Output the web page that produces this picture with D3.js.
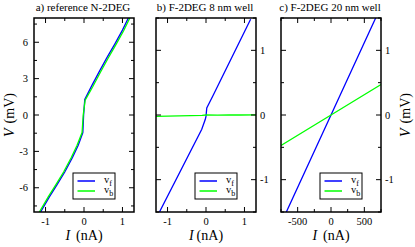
<!DOCTYPE html>
<html>
<head>
<meta charset="utf-8">
<script src="https://d3js.org/d3.v7.min.js"></script>
<style>
  body { margin: 0; background: #fff; }
  svg text { font-family: "Liberation Serif", "Times New Roman", "Liberation Sans", Arial, sans-serif; fill: #000; }
</style>
</head>
<body>
<div id="chart"></div>
<script>
const W = 415, H = 247;
const FONT = "'Liberation Serif', 'Times New Roman', 'Liberation Sans', Arial, sans-serif";

// panel a) reference N-2DEG, I in nA, V in mV
const aVf = [[-1.16,-8.2],[-1.13,-8],[-0.9,-6.75],[-0.7,-5.75],[-0.5,-4.7],[-0.3,-3.5],[-0.15,-2.5],[-0.03,-1.45],[-0.01,0],[0.02,1.29],[0.2,2.4],[0.4,3.6],[0.6,4.75],[0.8,5.85],[1.0,7.0],[1.13,7.85],[1.16,8.05]];
const aVb = [[-1.19,-8.2],[-1.16,-8],[-0.93,-6.75],[-0.73,-5.75],[-0.53,-4.7],[-0.33,-3.5],[-0.18,-2.5],[-0.05,-1.45],[-0.02,0],[0.03,1.22],[0.23,2.35],[0.43,3.55],[0.63,4.7],[0.83,5.8],[1.03,6.95],[1.16,7.8],[1.19,8.0]];
// panel b) F-2DEG 8 nm well
const bVf = [[-1.21,-1.5],[-0.11,-0.22],[-0.02,-0.07],[0,-0.02],[0.02,0.11],[0.19,0.31],[1.16,1.48]];
const bVb = [[-1.3,-0.02],[-1.0,-0.017],[-0.7,-0.012],[-0.4,-0.01],[-0.1,-0.006],[0,0],[0.3,-0.002],[0.6,0.002],[0.9,0],[1.3,0.002]];
// panel c) F-2DEG 20 nm well
const cVf = [[-670,-1.5],[0,0],[670,1.5]];
const cVb = [[-750,-0.47],[0,0],[750,0.47]];

const titles = ["a) reference N-2DEG", "b) F-2DEG 8 nm well", "c) F-2DEG 20 nm well"];
const legendNames = ["f", "b"];

const panels = [
  { title: titles[0], x0: 34, x1: 134, xd: [-1.3, 1.3], yd: [-8, 8],
    xMaj: [-1, 0, 1], xMin: [-0.5, 0.5], yMaj: [-6, -3, 0, 3, 6], yMin: [-7.5, -4.5, -1.5, 1.5, 4.5, 7.5],
    side: "left", vf: aVf, vb: aVb, ylab: "left", xgap: 6 },
  { title: titles[1], x0: 156, x1: 256, xd: [-1.3, 1.3], yd: [-1.5, 1.5],
    xMaj: [-1, 0, 1], xMin: [-0.5, 0.5], yMaj: [-1, 0, 1], yMin: [-1.5, -0.5, 0.5, 1.5],
    side: "right", vf: bVf, vb: bVb, ylab: null, xgap: 3 },
  { title: titles[2], x0: 281, x1: 381, xd: [-750, 750], yd: [-1.5, 1.5],
    xMaj: [-500, 0, 500], xMin: [-750, -250, 250, 750], yMaj: [-1, 0, 1], yMin: [-1.5, -0.5, 0.5, 1.5],
    side: "right", vf: cVf, vb: cVb, ylab: "right", xgap: 6 }
];

const Y0 = 18, Y1 = 212;

const svg = d3.select("#chart").append("svg")
  .attr("width", W).attr("height", H)
  .attr("font-family", FONT);

panels.forEach((p, i) => {
  const x = d3.scaleLinear().domain(p.xd).range([p.x0, p.x1]);
  const y = d3.scaleLinear().domain(p.yd).range([Y1, Y0]);
  const g = svg.append("g");

  g.append("clipPath").attr("id", "clip" + i)
    .append("rect").attr("x", p.x0).attr("y", Y0).attr("width", p.x1 - p.x0).attr("height", Y1 - Y0);

  const line = d3.line().x(d => x(d[0])).y(d => y(d[1]));
  g.append("path").datum(p.vf).attr("d", line)
    .attr("fill", "none").attr("stroke", "#0000ff").attr("stroke-width", 1.3)
    .attr("clip-path", `url(#clip${i})`);
  g.append("path").datum(p.vb).attr("d", line)
    .attr("fill", "none").attr("stroke", "#00ff00").attr("stroke-width", 1.3)
    .attr("clip-path", `url(#clip${i})`);

  // ticks, inward on all four sides
  const tk = (vals, len) => {
    vals.forEach(v => {
      g.append("line").attr("x1", x(v)).attr("x2", x(v)).attr("y1", Y1).attr("y2", Y1 - len).attr("stroke", "#000");
      g.append("line").attr("x1", x(v)).attr("x2", x(v)).attr("y1", Y0).attr("y2", Y0 + len).attr("stroke", "#000");
    });
  };
  const tky = (vals, len) => {
    vals.forEach(v => {
      g.append("line").attr("y1", y(v)).attr("y2", y(v)).attr("x1", p.x0).attr("x2", p.x0 + len).attr("stroke", "#000");
      g.append("line").attr("y1", y(v)).attr("y2", y(v)).attr("x1", p.x1).attr("x2", p.x1 - len).attr("stroke", "#000");
    });
  };
  tk(p.xMaj, 5); tk(p.xMin, 3);
  tky(p.yMaj, 5); tky(p.yMin, 3);

  g.append("rect").attr("x", p.x0).attr("y", Y0).attr("width", p.x1 - p.x0).attr("height", Y1 - Y0)
    .attr("fill", "none").attr("stroke", "#000").attr("stroke-width", 1.5);

  // tick labels
  g.selectAll(".xl").data(p.xMaj).enter().append("text")
    .attr("x", d => x(d)).attr("y", 225).attr("text-anchor", "middle")
    .style("font-family", FONT).style("font-size", "10.5px").text(d => d);
  g.selectAll(".yl").data(p.yMaj).enter().append("text")
    .attr("x", p.side === "left" ? p.x0 - 6 : p.x1 + 4)
    .attr("y", d => y(d) + 3.5)
    .attr("text-anchor", p.side === "left" ? "end" : "start")
    .style("font-family", FONT).style("font-size", "10.5px").text(d => d);

  // title
  g.append("text").attr("x", (p.x0 + p.x1) / 2 - 1).attr("y", 11).attr("text-anchor", "middle")
    .style("font-family", FONT).style("font-size", "11px").text(p.title);

  // x axis label
  const xl = g.append("text").attr("x", (p.x0 + p.x1) / 2).attr("y", 240)
    .attr("text-anchor", "middle").style("font-family", FONT).style("font-size", "14px");
  xl.append("tspan").style("font-style", "italic").text("I");
  xl.append("tspan").attr("dx", p.xgap).text("(nA)");

  // y axis label
  if (p.ylab) {
    const lx = p.ylab === "left" ? 14 : 410;
    const yl = g.append("text").attr("transform", `translate(${lx},${(Y0 + Y1) / 2}) rotate(-90)`)
      .attr("text-anchor", "middle").style("font-family", FONT).style("font-size", "14px");
    yl.append("tspan").style("font-style", "italic").text("V");
    yl.append("tspan").attr("dx", 5).text("(mV)");
  }

  // legend
  const lx0 = p.x1 - 61, ly0 = 173;
  g.append("rect").attr("x", lx0).attr("y", ly0).attr("width", 42).attr("height", 26)
    .attr("fill", "#fff").attr("stroke", "#000").attr("stroke-width", 1);
  [["#0000ff", legendNames[0]], ["#00ff00", legendNames[1]]].forEach((e, k) => {
    const ly = ly0 + 8 + k * 10;
    g.append("line").attr("x1", lx0 + 4.5).attr("x2", lx0 + 22).attr("y1", ly).attr("y2", ly)
      .attr("stroke", e[0]).attr("stroke-width", 1.5);
    const t = g.append("text").attr("x", lx0 + 31).attr("y", ly + 2)
      .style("font-family", FONT).style("font-size", "10.5px");
    t.append("tspan").text("v");
    t.append("tspan").attr("dy", 2.5).style("font-size", "8px").text(e[1]);
  });
});
</script>
</body>
</html>
